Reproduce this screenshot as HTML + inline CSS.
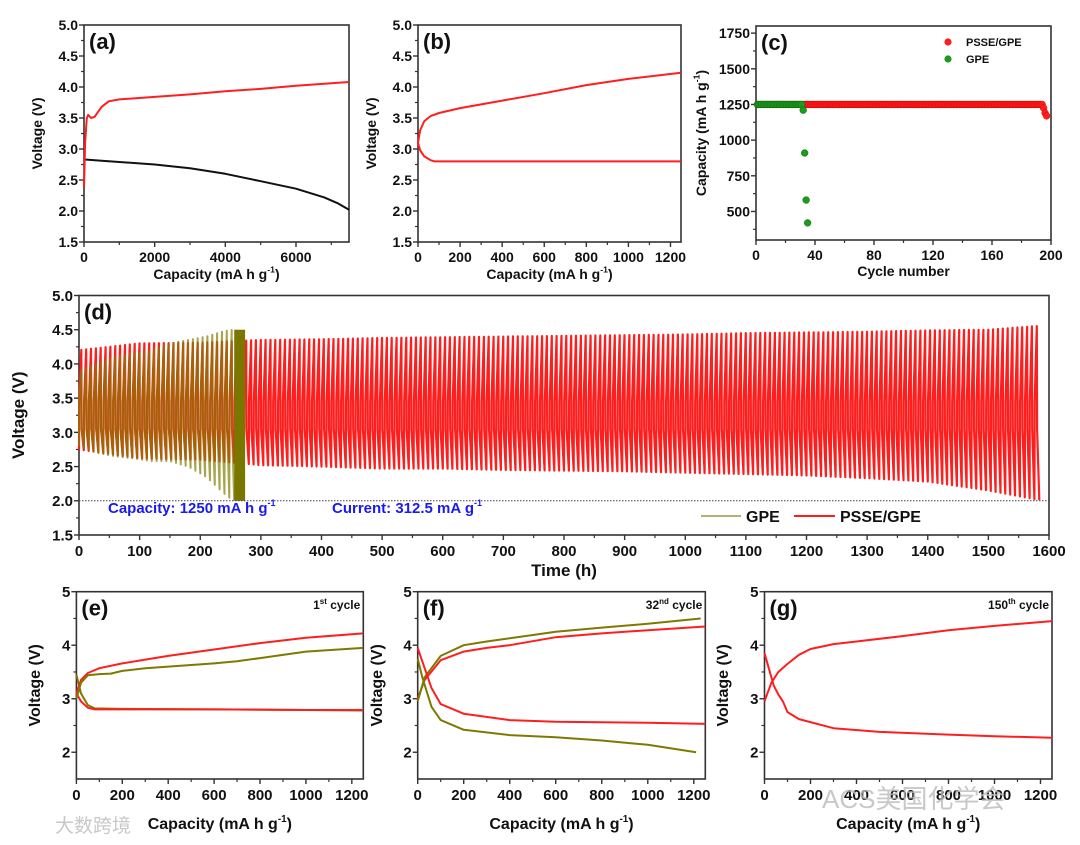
<!DOCTYPE html>
<html><head><meta charset="utf-8"><style>
html,body{margin:0;padding:0;background:#fff;}
svg{display:block;font-family:"Liberation Sans","Noto Sans CJK SC",sans-serif;}
.tk{font-weight:bold;fill:#111;}
</style></head><body>
<svg id="fig" width="1080" height="845" viewBox="0 0 1080 845" xmlns="http://www.w3.org/2000/svg"></svg>
<script>
const aChargeX=[0,30,80,120,200,300,400,500,700,1000,2000,3000,4000,5000,6000,7000,7500];
const aChargeY=[2.38,3.1,3.5,3.55,3.5,3.52,3.6,3.68,3.77,3.8,3.84,3.88,3.93,3.97,4.02,4.06,4.08];
const aDisX=[0,20,500,1000,2000,3000,4000,5000,6000,6800,7200,7500];
const aDisY=[2.85,2.83,2.81,2.79,2.75,2.69,2.6,2.48,2.36,2.22,2.12,2.02];
const bChargeX=[0,10,30,60,100,200,400,600,800,1000,1250];
const bChargeY=[3.1,3.3,3.45,3.53,3.58,3.66,3.78,3.9,4.03,4.13,4.23];
const bDisX=[0,10,30,60,80,1250];
const bDisY=[3.1,2.98,2.88,2.82,2.8,2.8];
const cRedCycles=[];const cRedCap=[];
for(let i=1;i<=194;i++){cRedCycles.push(i);cRedCap.push(1250);}
cRedCycles.push(195,196,197);cRedCap.push(1225,1190,1170);
const cGreenCycles=[];const cGreenCap=[];
for(let i=1;i<=31;i++){cGreenCycles.push(i);cGreenCap.push(1250);}
cGreenCycles.push(32,33,34,35);cGreenCap.push(1210,910,580,420);
const dRedT=[0,100,200,300,400,500,600,700,800,900,1000,1100,1200,1300,1400,1500,1590];
const dRedHi=[4.2,4.3,4.31,4.35,4.36,4.38,4.39,4.4,4.41,4.42,4.43,4.45,4.46,4.47,4.49,4.5,4.56];
const dRedLo=[2.75,2.62,2.6,2.52,2.5,2.47,2.47,2.45,2.44,2.43,2.41,2.39,2.37,2.33,2.28,2.15,2.0];
const dGpeT=[0,30,60,90,120,150,180,210,240,255,270];
const dGpeHi=[3.9,4.0,4.1,4.15,4.2,4.3,4.35,4.4,4.48,4.5,4.5];
const dGpeLo=[2.8,2.7,2.65,2.62,2.58,2.58,2.5,2.35,2.1,2.0,2.0];
const eRedCX=[0,20,50,100,200,400,600,800,1000,1250],eRedCY=[3.1,3.35,3.48,3.57,3.66,3.8,3.92,4.04,4.14,4.22];
const eGpeCX=[0,20,50,100,150,200,300,600,700,800,1000,1250],eGpeCY=[3.0,3.3,3.44,3.46,3.47,3.52,3.57,3.66,3.7,3.76,3.88,3.95];
const eRedDX=[0,20,50,80,200,600,1000,1250],eRedDY=[3.1,2.95,2.83,2.8,2.8,2.8,2.79,2.79];
const eGpeDX=[0,20,50,80,200,600,1000,1250],eGpeDY=[3.45,3.1,2.88,2.82,2.81,2.8,2.79,2.78];
const fRedCX=[0,30,100,200,300,400,600,800,1000,1250],fRedCY=[3.0,3.35,3.72,3.88,3.95,4.0,4.15,4.22,4.28,4.35];
const fGpeCX=[0,30,100,200,300,400,600,800,1000,1230],fGpeCY=[2.95,3.4,3.8,4.0,4.07,4.13,4.25,4.33,4.4,4.5];
const fRedDX=[0,20,60,100,200,400,600,1000,1250],fRedDY=[3.95,3.7,3.2,2.9,2.72,2.6,2.57,2.55,2.53];
const fGpeDX=[0,20,60,100,200,400,600,800,1000,1210],fGpeDY=[3.75,3.4,2.85,2.6,2.42,2.32,2.28,2.22,2.14,2.0];
const gRedCX=[0,30,60,100,150,200,300,400,600,800,1000,1250],gRedCY=[2.95,3.3,3.5,3.65,3.82,3.93,4.02,4.07,4.17,4.28,4.36,4.45];
const gRedDX=[0,20,40,60,80,100,150,300,500,800,1000,1250],gRedDY=[3.85,3.55,3.25,3.08,2.95,2.75,2.62,2.45,2.38,2.33,2.3,2.27];

const RED="#ff1e1e",OLV="#7d7a00";
const NS="http://www.w3.org/2000/svg";
const svg=document.getElementById('fig');
function el(tag,attrs,parent){const e=document.createElementNS(NS,tag);for(const k in attrs)e.setAttribute(k,attrs[k]);(parent||svg).appendChild(e);return e;}
function txt(s,attrs,parent){const t=el('text',attrs,parent);t.textContent=s;return t;}

function axes(o){
  const g=el('g',{});
  
  
  const sx=v=>o.x0+(v-o.xmin)/(o.xmax-o.xmin)*(o.x1-o.x0);
  const sy=v=>o.y1-(v-o.ymin)/(o.ymax-o.ymin)*(o.y1-o.y0);
  const fr=el('rect',{x:o.x0,y:o.y0,width:o.x1-o.x0,height:o.y1-o.y0,fill:'none',stroke:'#333','stroke-width':1.6},g);
  
  
  const fs=o.fs||14;
  o.xticks.forEach(v=>{const x=sx(v);el('line',{x1:x,x2:x,y1:o.y1,y2:o.y1+5,stroke:'#333','stroke-width':1.4},g);
    const t=txt(o.xfmt?o.xfmt(v):String(v),{x:x,y:o.y1+fs+6,'text-anchor':'middle','font-size':fs,class:'tk'},g);
    
    });
  (o.xminor||[]).forEach(v=>{const x=sx(v);el('line',{x1:x,x2:x,y1:o.y1,y2:o.y1+3,stroke:'#333','stroke-width':1.2},g);});
  o.yticks.forEach(v=>{const y=sy(v);el('line',{x1:o.x0-5,x2:o.x0,y1:y,y2:y,stroke:'#333','stroke-width':1.4},g);
    const t=txt(o.yfmt?o.yfmt(v):String(v),{x:o.x0-6,y:y+fs*0.36,'text-anchor':'end','font-size':fs,class:'tk'},g);
    
    });
  (o.yminor||[]).forEach(v=>{const y=sy(v);el('line',{x1:o.x0-3,x2:o.x0,y1:y,y2:y,stroke:'#333','stroke-width':1.2},g);});
  const tf=o.tfs||14;
  const xt=el('text',{x:(o.x0+o.x1)/2,y:o.xty,'text-anchor':'middle','font-size':tf,class:'tk'},g);
  
  
  if(o.sup){xt.appendChild(document.createTextNode(o.xtitle));const sp=el('tspan',{'font-size':tf*0.62,dy:-tf*0.45},xt);sp.textContent='-1';const sp2=el('tspan',{dy:tf*0.45},xt);sp2.textContent=')';}
  else xt.textContent=o.xtitle;
  const yc=(o.y0+o.y1)/2;
  const yt=el('text',{x:o.ytx,y:yc,'text-anchor':'middle','font-size':tf,class:'tk',transform:`rotate(-90 ${o.ytx} ${yc})`},g);
  
  
  if(o.ysup){yt.appendChild(document.createTextNode(o.ytitle));const sp=el('tspan',{'font-size':tf*0.62,dy:-tf*0.45},yt);sp.textContent='-1';const sp2=el('tspan',{dy:tf*0.45},yt);sp2.textContent=')';}
  else yt.textContent=o.ytitle;
  const pl=txt(o.label,{x:o.x0+5,y:o.y0+24,'font-size':o.lfs||22,class:'tk'},g);
  
  
  return {sx,sy,g};
}
function curve(ax,xs,ys,color,name,w){
  const d=xs.map((x,i)=>(i?'L':'M')+ax.sx(x).toFixed(1)+' '+ax.sy(ys[i]).toFixed(1)).join(' ');
  const p=el('path',{d:d,fill:'none',stroke:color,'stroke-width':w||2,'stroke-linejoin':'round'},ax.g);
  
  
  return p;
}
const rng=(a,b,s)=>{const r=[];for(let v=a;v<=b+1e-9;v+=s)r.push(+v.toFixed(4));return r;};
const f1=v=>v.toFixed(1);

const A=axes({name:'panel-a',x0:84,x1:349,y0:25,y1:242,xmin:0,xmax:7500,ymin:1.5,ymax:5,xticks:[0,2000,4000,6000],xminor:[1000,3000,5000,7000],yticks:rng(1.5,5,0.5),yminor:rng(1.75,4.75,0.5),yfmt:f1,xtitle:'Capacity (mA h g',sup:true,xty:279,ytitle:'Voltage (V)',ytx:42,label:'(a)'});
curve(A,aDisX,aDisY,'#111','a-discharge-curve');
curve(A,aChargeX,aChargeY,RED,'a-charge-curve');
const B=axes({name:'panel-b',x0:418,x1:681,y0:25,y1:242,xmin:0,xmax:1250,ymin:1.5,ymax:5,xticks:rng(0,1200,200),xminor:rng(100,1100,200),yticks:rng(1.5,5,0.5),yminor:rng(1.75,4.75,0.5),yfmt:f1,xtitle:'Capacity (mA h g',sup:true,xty:279,ytitle:'Voltage (V)',ytx:376,label:'(b)'});
curve(B,bChargeX,bChargeY,RED,'b-charge-curve');
curve(B,bDisX,bDisY,RED,'b-discharge-curve');
const C=axes({name:'panel-c',x0:756,x1:1051,y0:26,y1:240,xmin:0,xmax:200,ymin:300,ymax:1800,xticks:rng(0,200,40),xminor:rng(20,180,40),yticks:[500,750,1000,1250,1500,1750],yminor:[375,625,875,1125,1375,1625],xtitle:'Cycle number',xty:276,ytitle:'Capacity (mA h g',ysup:true,ytx:706,label:'(c)'});
cRedCycles.forEach((c,i)=>{const p=el('circle',{cx:C.sx(c),cy:C.sy(cRedCap[i]),r:3.4,fill:RED,stroke:'#d00','stroke-width':0.5},C.g);
  
  });
cGreenCycles.forEach((c,i)=>{const p=el('circle',{cx:C.sx(c),cy:C.sy(cGreenCap[i]),r:3.4,fill:'#1e9a1e',stroke:'#0a6a0a','stroke-width':0.5},C.g);
  
  });
{const l=el('g',{},C.g);
 el('circle',{cx:948,cy:42,r:3.6,fill:RED},l);txt('PSSE/GPE',{x:966,y:46,'font-size':11,class:'tk'},l);
 el('circle',{cx:948,cy:59,r:3.6,fill:'#1e9a1e'},l);txt('GPE',{x:966,y:63,'font-size':11,class:'tk'},l);}
const D=axes({name:'panel-d',x0:79,x1:1049,y0:295.5,y1:535,xmin:0,xmax:1600,ymin:1.5,ymax:5,xticks:rng(0,1600,100),xminor:rng(50,1550,100),yticks:rng(1.5,5,0.5),yminor:rng(1.75,4.75,0.5),yfmt:f1,fs:15,xtitle:'Time (h)',tfs:17,xty:576,ytitle:'Voltage (V)',ytx:24,label:'(d)'});
function interp(ts,vs,t){if(t<=ts[0])return vs[0];for(let i=1;i<ts.length;i++){if(t<=ts[i]){const f=(t-ts[i-1])/(ts[i]-ts[i-1]);return vs[i-1]+f*(vs[i]-vs[i-1]);}}return vs[vs.length-1];}
function cycles(ts,hi,lo,tEnd,period,color,name,op,w){
  let pts=[];
  for(let t0=0;t0+period<=tEnd+0.01;t0+=period){
    const H=interp(ts,hi,t0+period/2),L=interp(ts,lo,t0),L2=interp(ts,lo,t0+period);
    if(t0===0)pts.push([t0,L]);
    pts.push([t0+0.4,3.45],[t0+period/2-0.2,H],[t0+period/2+0.3,3.05],[t0+period,L2]);
  }
  const d=pts.map((p,i)=>(i?'L':'M')+D.sx(p[0]).toFixed(1)+' '+D.sy(p[1]).toFixed(1)).join(' ');
  const p=el('path',{d:d,fill:'none',stroke:color,'stroke-width':w||2,opacity:op||1,'stroke-linejoin':'round'},D.g);
  
  
}
cycles(dRedT,dRedHi,dRedLo,1590,8,RED,'pssegpe-voltage-trace',1,2.2);
cycles(dGpeT,dGpeHi,dGpeLo,256,8,'#807d00','gpe-voltage-trace',0.7,2);
{const p=el('rect',{x:D.sx(256),y:D.sy(4.5),width:D.sx(274)-D.sx(256),height:D.sy(2.0)-D.sy(4.5),fill:'#7a7700'},D.g);
 
 }
{const l=el('line',{x1:79,x2:1049,y1:D.sy(2.0),y2:D.sy(2.0),stroke:'#444','stroke-width':1,'stroke-dasharray':'1.5 1.5'},D.g);
 
 }
{const t=el('text',{x:108,y:513,'font-size':15,fill:'#1a1aee','font-weight':'bold'},D.g);
 
 
 t.appendChild(document.createTextNode('Capacity: 1250 mA h g'));const s=el('tspan',{'font-size':9,dy:-7},t);s.textContent='-1';
 const t2=el('text',{x:332,y:513,'font-size':15,fill:'#1a1aee','font-weight':'bold'},D.g);
 
 
 t2.appendChild(document.createTextNode('Current: 312.5 mA g'));const s2=el('tspan',{'font-size':9,dy:-7},t2);s2.textContent='-1';}
{const l=el('g',{},D.g);
 el('line',{x1:701,x2:741,y1:516,y2:516,stroke:'#9a9a40','stroke-width':1.5},l);txt('GPE',{x:746,y:522,'font-size':16,class:'tk'},l);
 el('line',{x1:794,x2:835,y1:516,y2:516,stroke:RED,'stroke-width':2},l);txt('PSSE/GPE',{x:840,y:522,'font-size':16,class:'tk'},l);}
function bottom(name,x0,x1,label,ytx){
  return axes({name:name,x0:x0,x1:x1,y0:591.7,y1:779,xmin:0,xmax:1250,ymin:1.5,ymax:5,xticks:rng(0,1200,200),xminor:rng(100,1100,200),yticks:[2,3,4,5],yminor:[2.5,3.5,4.5],fs:15,tfs:16,xtitle:'Capacity (mA h g',sup:true,xty:829,ytitle:'Voltage (V)',ytx:ytx,label:label});
}
function cyc(ax,n,sup){const t=el('text',{x:ax.sx(1250)-3,y:609,'text-anchor':'end','font-size':12,class:'tk'},ax.g);
  
  
  t.appendChild(document.createTextNode(n));const s=el('tspan',{'font-size':8,dy:-5},t);s.textContent=sup;const s2=el('tspan',{dy:5},t);s2.textContent=' cycle';}
const E=bottom('panel-e',76.4,363.3,'(e)',40);
curve(E,eGpeDX,eGpeDY,OLV,'e-gpe-discharge');curve(E,eRedDX,eRedDY,RED,'e-pssegpe-discharge');
curve(E,eRedCX,eRedCY,RED,'e-pssegpe-charge');curve(E,eGpeCX,eGpeCY,OLV,'e-gpe-charge');
cyc(E,'1','st');
const F=bottom('panel-f',417.7,705.3,'(f)',382);
curve(F,fRedCX,fRedCY,RED,'f-pssegpe-charge');curve(F,fGpeCX,fGpeCY,OLV,'f-gpe-charge');
curve(F,fRedDX,fRedDY,RED,'f-pssegpe-discharge');curve(F,fGpeDX,fGpeDY,OLV,'f-gpe-discharge');
cyc(F,'32','nd');
const G=bottom('panel-g',764.5,1052,'(g)',728);
curve(G,gRedCX,gRedCY,RED,'g-pssegpe-charge');curve(G,gRedDX,gRedDY,RED,'g-pssegpe-discharge');
cyc(G,'150','th');
{const w=txt('大数跨境',{x:55,y:832,'font-size':19,fill:'#c8c8c8'});
 const w2=txt('ACS美国化学会',{x:822,y:808,'font-size':26,fill:'#bbbbbb',opacity:0.8});}
</script>
</body></html>
